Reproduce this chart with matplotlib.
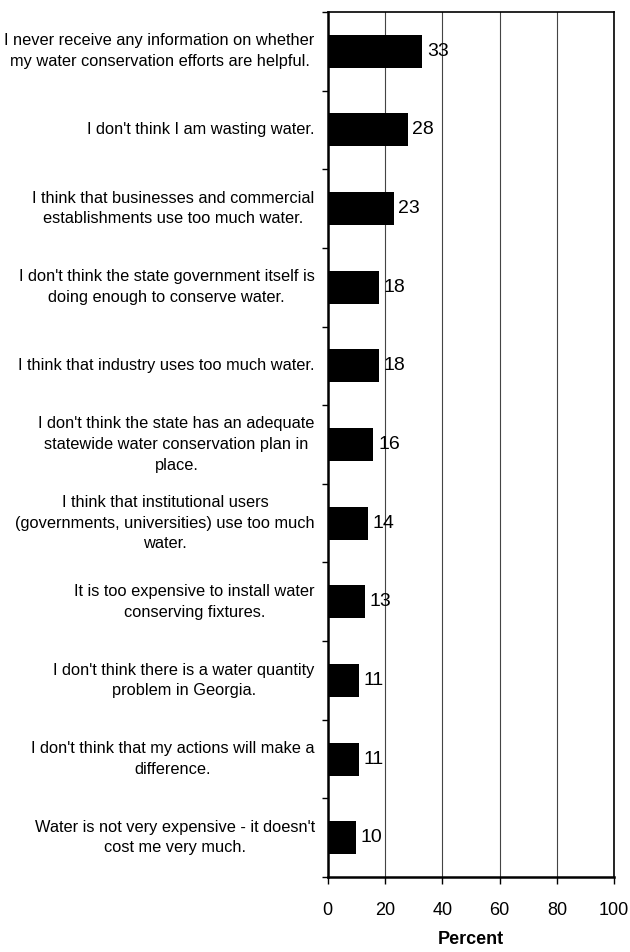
import numpy as np
import matplotlib.pyplot as plt

plt.rcParams['font.family'] = ['Liberation Sans', 'DejaVu Sans']

labels = [
    "I never receive any information on whether\nmy water conservation efforts are helpful.",
    "I don't think I am wasting water.",
    "I think that businesses and commercial\nestablishments use too much water.",
    "I don't think the state government itself is\ndoing enough to conserve water.",
    "I think that industry uses too much water.",
    "I don't think the state has an adequate\nstatewide water conservation plan in\nplace.",
    "I think that institutional users\n(governments, universities) use too much\nwater.",
    "It is too expensive to install water\nconserving fixtures.",
    "I don't think there is a water quantity\nproblem in Georgia.",
    "I don't think that my actions will make a\ndifference.",
    "Water is not very expensive - it doesn't\ncost me very much.",
]
values = [33, 28, 23, 18, 18, 16, 14, 13, 11, 11, 10]
xticks = [0, 20, 40, 60, 80, 100]

fig = plt.figure(figsize=(6.3, 9.52), dpi=100)
ax = fig.add_axes([0.520, 0.0788, 0.455, 0.9086])

y = np.arange(len(values))
ax.barh(y, values, height=0.42, color='black', zorder=3)
for yi, v in zip(y, values):
    ax.text(v + 1.6, yi, str(v), va='center', ha='left', fontsize=14, zorder=4)

ax.set_xlim(0, 100)
ax.set_ylim(len(values) - 0.5, -0.5)
ax.set_xticks(xticks)
ax.tick_params(axis='x', labelsize=13, length=5, width=1, pad=13)

# category labels between tick marks
ax.set_yticks(np.arange(len(values) + 1) - 0.5)
ax.set_yticklabels([])
ax.tick_params(axis='y', length=4, width=1)
for yi, lab in zip(y, labels):
    ax.text(-0.045, yi, lab, transform=ax.get_yaxis_transform(), ha='right',
            va='center', multialignment='center', fontsize=11.8, linespacing=1.47)

ax.xaxis.grid(True, color='#444444', linewidth=0.8, zorder=0)
for s in ['left', 'bottom']:
    ax.spines[s].set_linewidth(1.8)
for s in ['top', 'right']:
    ax.spines[s].set_linewidth(1.2)

ax.set_xlabel('Percent', fontsize=13, fontweight='bold', labelpad=9)

fig.savefig('out.png', dpi=100)
